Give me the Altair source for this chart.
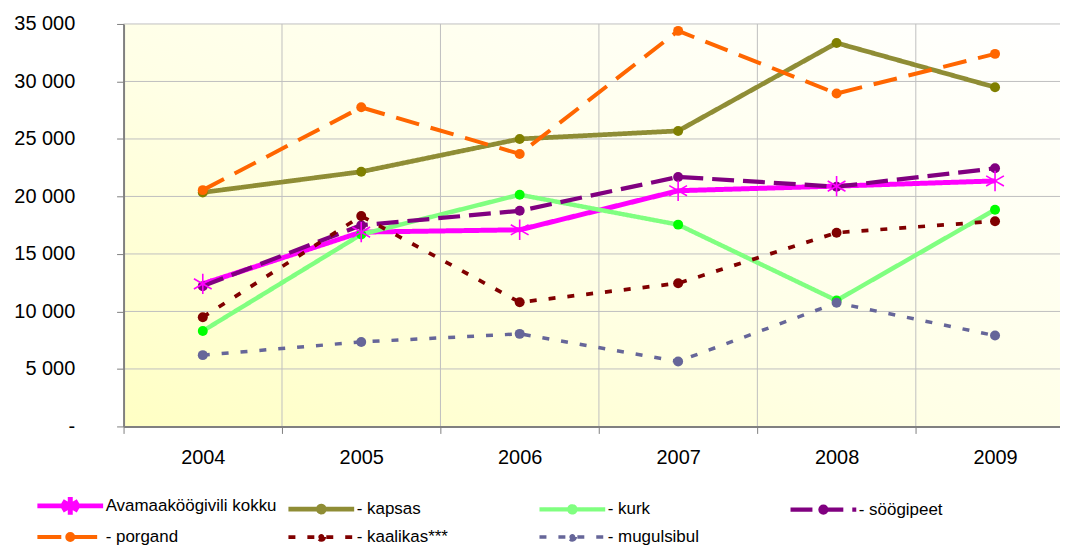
import altair as alt
import pandas as pd

# ---------------- data ----------------
years = [2004, 2005, 2006, 2007, 2008, 2009]
series_names = ["Avamaaköögivili kokku", "- kapsas", "- kurk", "- söögipeet",
                "- porgand", "- kaalikas***", "- mugulsibul"]
kokku = [12400, 16900, 17100, 20500, 20900, 21350]
kapsas = [20350, 22150, 25000, 25700, 33350, 29500]
kurk = [8300, 16700, 20150, 17550, 10950, 18850]
soogipeet = [12200, 17500, 18750, 21700, 20850, 22450]
porgand = [20550, 27750, 23700, 34400, 28950, 32400]
kaalikas = [9500, 18300, 10800, 12450, 16850, 17850]
mugulsibul = [6200, 7350, 8050, 5650, 10750, 7900]
series_values = [kokku, kapsas, kurk, soogipeet, porgand, kaalikas, mugulsibul]

y_ticks = [0, 5000, 10000, 15000, 20000, 25000, 30000, 35000]
x_ticks = [2003.5, 2004, 2004.5, 2005, 2005.5, 2006, 2006.5, 2007,
           2007.5, 2008, 2008.5, 2009]
x_grid = [2004.5, 2005.5, 2006.5, 2007.5, 2008.5]
y_grid = [5000, 10000, 15000, 20000, 25000, 30000, 35000]

# ---------------- styles ----------------
line_colors = ["#FF00FF", "#8F8D35", "#80FF80", "#800080", "#FF6600", "#800000", "#666699"]
marker_colors = ["#FF00FF", "#808000", "#00FF00", "#800080", "#FF6600", "#800000", "#666699"]
dashes = [[1, 0], [1, 0], [1, 0], [22, 9], [24, 12], [7, 12], [7, 12]]
widths = [5, 3.5, 4.5, 4, 3.5, 3.5, 3.5]

rows = []
for name, vals in zip(series_names, series_values):
    for yr, v in zip(years, vals):
        rows.append({"series": name, "year": yr, "value": v})
df = pd.DataFrame(rows)

FONT = "Liberation Sans"
star_path = "M0,-1L0,1M-0.87,-0.5L0.87,0.5M-0.87,0.5L0.87,-0.5"
# legend symbols: a 66px line with the marker in the middle (unit = 10px)
leg_circle = "M-3.3,0L3.3,0M0.3,0A0.3,0.3,0,1,1,-0.3,0A0.3,0.3,0,1,1,0.3,0Z"
leg_star = "M-3.3,0L3.3,0M0,-0.9L0,0.9M-0.78,-0.45L0.78,0.45M-0.78,0.45L0.78,-0.45"
legend_shapes = [leg_star] + [leg_circle] * 6

x_scale = alt.Scale(domain=[2003.5, 2009.41], nice=False, zero=False)
y_scale = alt.Scale(domain=[0, 35000], nice=False)

x_enc = alt.X(
    "year:Q", scale=x_scale,
    axis=alt.Axis(
        title=None, values=x_ticks, zindex=1,
        labelExpr="datum.value % 1 === 0 ? format(datum.value, 'd') : ''",
        labelFont=FONT, labelFontSize=20, labelColor="black", labelPadding=14,
        labelFlush=False, labelOverlap=False,
        domainColor="#808080", domainWidth=2,
        tickColor="#808080", tickSize=7, tickWidth=1,
        tickOpacity={"condition": {"test": "datum.value % 1 === 0", "value": 0}, "value": 1},
        grid=False,
    ),
)
y_enc = alt.Y(
    "value:Q", scale=y_scale,
    axis=alt.Axis(
        title=None, values=y_ticks, zindex=1,
        labelExpr="datum.value == 0 ? '-\u00a0\u00a0\u00a0\u00a0' : replace(format(datum.value, ','), ',', ' ')",
        labelFont=FONT, labelFontSize=20, labelColor="black", labelPadding=42,
        domainColor="#808080", domainWidth=2,
        tickColor="#808080", tickSize=7, tickWidth=1,
        grid=False,
    ),
)

color_scale = alt.Scale(domain=series_names, range=line_colors)
fill_scale = alt.Scale(domain=series_names, range=marker_colors)
dash_scale = alt.Scale(domain=series_names, range=dashes)
width_scale = alt.Scale(domain=series_names, range=widths)
shape_scale = alt.Scale(domain=series_names, range=legend_shapes)

legend = alt.Legend(
    title=None, orient="none", legendX=-89, legendY=471,
    direction="horizontal", columns=4, gridAlign="all",
    columnPadding=2, rowPadding=0, labelOffset=23,
    symbolSize=400, symbolOffset=23, symbolOpacity=1,
    labelFont=FONT, labelFontSize=17, labelColor="black", labelLimit=400,
    padding=0,
)

# background gradient of the plot area
bg = alt.Chart(pd.DataFrame({"bg": [0]})).mark_rect(
    fill=alt.Gradient(
        gradient="linear", x1=0, y1=1, x2=1, y2=0,
        stops=[alt.GradientStop(offset=0, color="#FFFFC4"),
               alt.GradientStop(offset=0.45, color="#FFFFE6"),
               alt.GradientStop(offset=1, color="#FFFFFF")],
    )
).encode(x=alt.value(0), x2=alt.value(940), y=alt.value(0), y2=alt.value(404))

ygrid = alt.Chart(pd.DataFrame({"value": y_grid})).mark_rule(
    color="#C0C0C0", strokeWidth=1).encode(y=y_enc)
xgrid = alt.Chart(pd.DataFrame({"year": x_grid})).mark_rule(
    color="#C0C0C0", strokeWidth=1).encode(x=x_enc)

lines = alt.Chart(df).mark_line().encode(
    x=x_enc, y=y_enc,
    color=alt.Color("series:N", scale=color_scale, legend=None),
    strokeDash=alt.StrokeDash("series:N", scale=dash_scale, legend=None),
    strokeWidth=alt.StrokeWidth("series:N", scale=width_scale, legend=None),
)

points = alt.Chart(df).transform_filter(
    alt.datum.series != series_names[0]
).mark_point(filled=True, shape="circle", size=100, opacity=1, strokeWidth=0).encode(
    x=x_enc, y=y_enc,
    fill=alt.Fill("series:N", scale=fill_scale, legend=None),
)

stars = alt.Chart(df).transform_filter(
    alt.datum.series == series_names[0]
).mark_point(shape=star_path, size=420, filled=False, opacity=1,
             stroke=marker_colors[0], strokeWidth=1.6).encode(
    x=x_enc, y=y_enc,
)

# invisible layer that only carries the legend (line + marker symbols)
legend_layer = alt.Chart(df).transform_filter("false").mark_point(
    filled=False, opacity=1
).encode(
    x=x_enc, y=y_enc,
    color=alt.Color("series:N", scale=color_scale, legend=legend),
    fill=alt.Fill("series:N", scale=fill_scale),
    shape=alt.Shape("series:N", scale=shape_scale),
    strokeDash=alt.StrokeDash("series:N", scale=dash_scale),
    strokeWidth=alt.StrokeWidth("series:N", scale=width_scale),
)

chart = alt.layer(bg, ygrid, xgrid, lines, points, stars, legend_layer).resolve_legend(
    color="independent", fill="independent", shape="independent",
    strokeDash="independent", strokeWidth="independent",
).properties(
    width=940, height=404,
    autosize=alt.AutoSizeParams(type="none"),
    padding={"left": 116, "top": 15, "right": 0, "bottom": 121},
    background="white",
).configure_view(stroke=None).configure(font=FONT)

chart.save("out.html", embed_options={"renderer": "svg", "actions": False})
